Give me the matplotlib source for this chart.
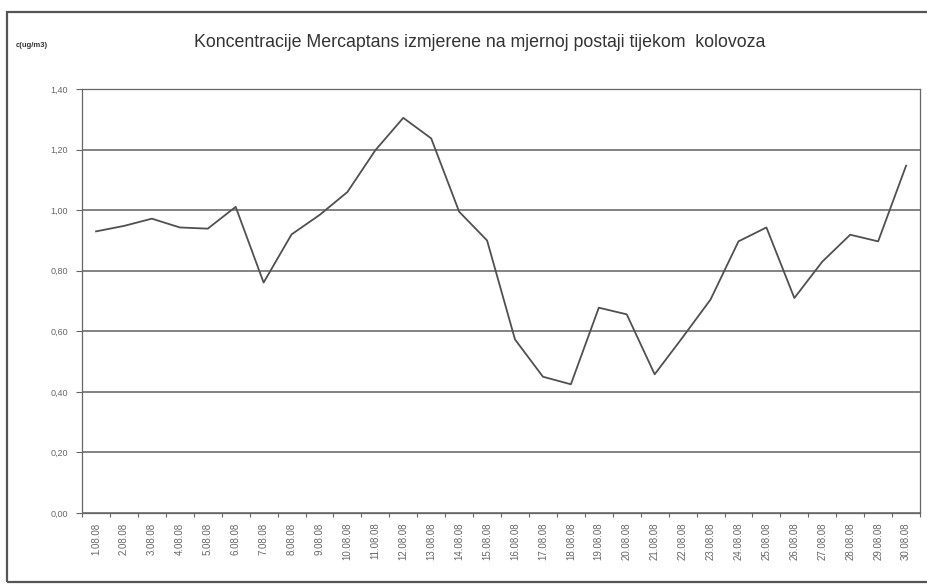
import matplotlib
matplotlib.use("Agg")
import matplotlib.pyplot as plt
from matplotlib.patches import Rectangle
from matplotlib import font_manager

dates = ["%d.08.08" % d for d in range(1, 31)]
values = [0.93, 0.948, 0.972, 0.943, 0.939, 1.011, 0.761, 0.92, 0.984, 1.06,
          1.198, 1.305, 1.237, 0.995, 0.90, 0.573, 0.45, 0.425, 0.678, 0.656,
          0.458, 0.58, 0.705, 0.897, 0.943, 0.71, 0.83, 0.919, 0.897, 1.147]
yticks = [0.0, 0.2, 0.4, 0.6, 0.8, 1.0, 1.2, 1.4]
ytick_labels = ["0,00", "0,20", "0,40", "0,60", "0,80", "1,00", "1,20", "1,40"]
title = "Koncentracije Mercaptans izmjerene na mjernoj postaji tijekom  kolovoza"
ylab = "c(ug/m3)"

names = {f.name for f in font_manager.fontManager.ttflist}
narrow = "Liberation Sans Narrow" if "Liberation Sans Narrow" in names else "Liberation Sans"

fig = plt.figure(figsize=(9.27, 5.86), dpi=100)
fig.patches.append(Rectangle((0.008, 0.006), 1.2, 0.973, transform=fig.transFigure,
                             fill=False, edgecolor="#555555", linewidth=1.6))
ax = fig.add_axes([0.0885, 0.1246, 0.904, 0.7234])

x = list(range(len(values)))
ax.plot(x, values, color="#505050", linewidth=1.3)
ax.set_xlim(-0.5, len(values) - 0.5)
ax.set_ylim(0, 1.4)
ax.set_yticks(yticks)
ax.set_yticklabels(ytick_labels, fontsize=6.5, color="#666666", family=narrow)
ax.set_xticks(x)
ax.set_xticklabels(dates, rotation=90, fontsize=7, color="#666666", family=narrow)
ax.tick_params(axis="x", length=0, pad=7)
ax.tick_params(axis="y", length=4, color="#666666", width=0.8, pad=6)
ax.set_xticks([i - 0.5 for i in range(len(values) + 1)], minor=True)
ax.tick_params(axis="x", which="minor", length=3, color="#666666", width=0.8)
ax.grid(axis="y", color="#606060", linewidth=1.1)
ax.set_axisbelow(True)
for s in ax.spines.values():
    s.set_color("#666666")
    s.set_linewidth(0.9)

fig.text(0.518, 0.927, title, ha="center", va="center", fontsize=12.8,
         color="#333333", family=narrow)
fig.text(0.034, 0.922, ylab, ha="center", va="center", fontsize=5.5,
         color="#333333", family=narrow, fontweight="bold")

fig.savefig("out.png", dpi=100)
